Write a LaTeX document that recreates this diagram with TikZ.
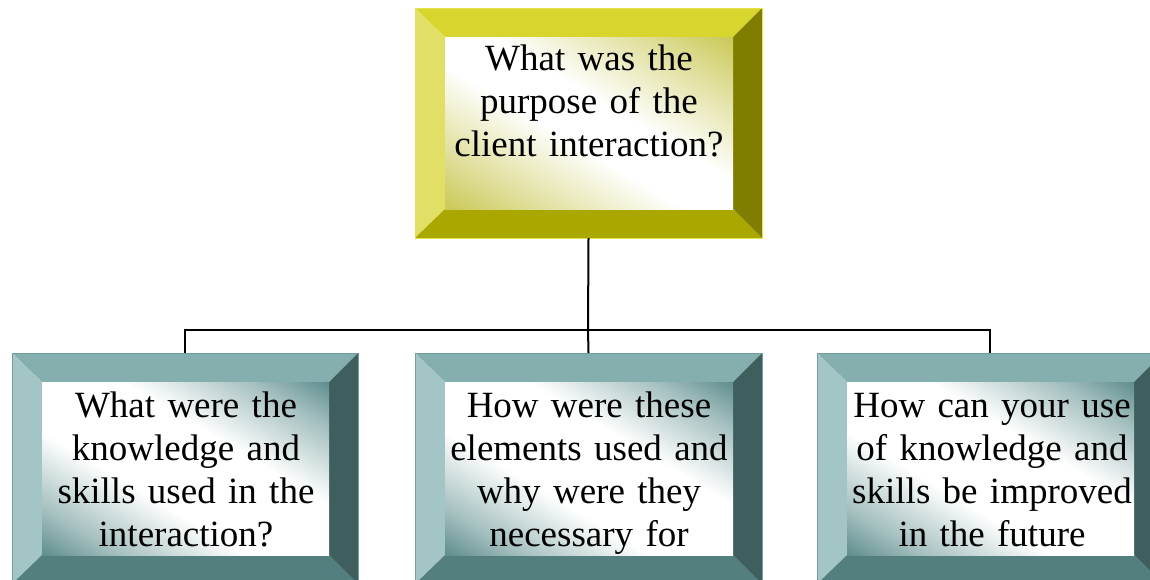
\documentclass[tikz,border=0pt]{standalone}
\usepackage{fontspec}
\setmainfont{Liberation Serif}
\usetikzlibrary{calc}
\definecolor{olT}{HTML}{D8D52E}
\definecolor{olL}{HTML}{E2DF66}
\definecolor{olB}{HTML}{AAA800}
\definecolor{olR}{HTML}{807E00}
\definecolor{olO}{HTML}{E6E34A}
\definecolor{olC}{HTML}{C9C752}
\definecolor{tlT}{HTML}{85AFAE}
\definecolor{tlL}{HTML}{A3C5C5}
\definecolor{tlB}{HTML}{537F7F}
\definecolor{tlR}{HTML}{3F5F5F}
\definecolor{tlO}{HTML}{6E9E9E}
\definecolor{tlC}{HTML}{5A8A8A}
\pgfdeclareverticalshading{olface}{100bp}{color(0bp)=(olC); color(25bp)=(olC); color(33bp)=(olC!60!white); color(46bp)=(white); color(54bp)=(white); color(67bp)=(olC!60!white); color(75bp)=(olC); color(100bp)=(olC)}
\pgfdeclareverticalshading{tlface}{100bp}{color(0bp)=(tlC); color(25bp)=(tlC); color(32bp)=(tlC!55!white); color(43bp)=(white); color(57bp)=(white); color(68bp)=(tlC!55!white); color(75bp)=(tlC); color(100bp)=(tlC)}
\tikzset{
  txt/.style={font=\fontsize{37}{43}\selectfont, align=center, text width=300pt, inner sep=0pt, anchor=base},
  frame/.style={inner sep=0pt, outer sep=0pt},
  link/.style={line width=2pt, black}
}
% #1 name, #2 x1, #3 y1, #4 x2, #5 y2, #6 colour prefix
\newcommand\mybevel[6]{%
  \node[frame, minimum width={(#4-#2)*1pt}, minimum height={(#5-#3)*1pt}] (#1) at ({(#2+#4)/2},{(#3+#5)/2}) {};
  \fill[#6T] (#2,#3) -- (#4,#3) -- ({#4-29},{#3+29}) -- ({#2+30},{#3+29}) -- cycle;
  \fill[#6L] (#2,#3) -- ({#2+30},{#3+29}) -- ({#2+30},{#5-29}) -- (#2,#5) -- cycle;
  \fill[#6B] (#2,#5) -- ({#2+30},{#5-29}) -- ({#4-29},{#5-29}) -- (#4,#5) -- cycle;
  \fill[#6R] (#4,#3) -- (#4,#5) -- ({#4-29},{#5-29}) -- ({#4-29},{#3+29}) -- cycle;
  \begin{scope}
    \clip ({#2+30},{#3+29}) rectangle ({#4-29},{#5-29});
    \begin{scope}[transform canvas={shift={({(#2+#4)/2+0.5},{(#3+#5)/2})}, xscale={(#4-#2-59)/100}, yscale={(#5-#3-58)/100}, rotate=-45}]
      \shade[shading=#6face] (-72,-72) rectangle (72,72);
    \end{scope}
  \end{scope}
  \draw[#6O, line width=1pt] (#2,#3) rectangle (#4,#5);
}
\begin{document}
\begin{tikzpicture}[x=1pt, y=-1pt]
\useasboundingbox (0,0) rectangle (1150,579);
\begin{scope}
\clip (0,0) rectangle (1150,579);
\mybevel{top}{415}{8}{762}{238}{ol}
\mybevel{b1}{12}{353}{358}{584}{tl}
\mybevel{b2}{415}{353}{762}{584}{tl}
\mybevel{b3}{817}{353}{1163}{584}{tl}

\node[txt] (t0) at (589,70) {What was the\\purpose of the\\client interaction?};
\node[txt] (t1) at (186,417) {What were the\\knowledge and\\skills used in the\\interaction?};
\node[txt] (t2) at (589,417) {How were these\\elements used and\\why were they\\necessary for};
\node[txt] (t3) at (992,417) {How can your use\\of knowledge and\\skills be improved\\in the future};

\coordinate (bus) at (588,330);
\draw[link] (top.south) -- (bus);
\draw[link] (b1.north) |- (bus) -| (b3.north);
\draw[link] (bus) -- (b2.north);
\end{scope}
\end{tikzpicture}
\end{document}
